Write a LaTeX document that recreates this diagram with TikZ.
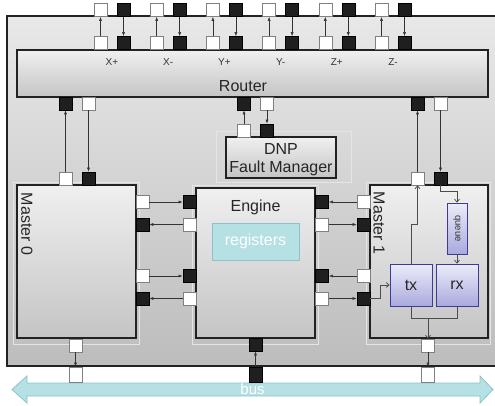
\documentclass[tikz,border=0pt]{standalone}
\usepackage{fontspec}
\setmainfont{Liberation Sans}
\usetikzlibrary{arrows.meta, shadows}

\definecolor{boxline}{HTML}{222222}
\definecolor{regfill}{HTML}{B5E0E4}
\definecolor{regline}{HTML}{8DC3C8}
\definecolor{hwline}{HTML}{3C3C98}
\definecolor{hwtop}{HTML}{ECECFA}
\definecolor{hwbot}{HTML}{A9A9DD}

\begin{document}
\begin{tikzpicture}[x=1pt, y=-1pt,
  unit/.style={draw=boxline, line width=1.2pt, top color=gray!12, bottom color=gray!46,
    drop shadow={shadow xshift=1.3pt, shadow yshift=-1.3pt, opacity=0.35}, inner sep=0pt},
  big/.style={font=\fontsize{16}{18}\selectfont, text=black!85},
  hw/.style={draw=hwline, line width=0.8pt, top color=hwtop, bottom color=hwbot, inner sep=0pt, big},
  regbox/.style={big, draw=regline, line width=0.8pt, fill=regfill, text=white},
  port/.style={minimum width=13pt, minimum height=13pt, inner sep=0pt, line width=0.6pt},
  wport/.style={port, draw=gray, fill=white},
  bport/.style={port, draw=black, fill=black!88},
  link/.style={-{Latex[length=4pt,width=3pt]}, line width=0.5pt, black!80},
  wire/.style={-{Straight Barb[length=3pt,width=5pt]}, line width=0.7pt, black!70},
  halo/.style={draw=white!80!gray, line width=0.6pt},
  lbl/.style={font=\fontsize{10}{11}\selectfont, text=black!80}
]
\useasboundingbox (0,0) rectangle (495,406);
\clip (0,0) rectangle (495,406);

% chip outline
\draw[draw=boxline, line width=1.3pt, top color=gray!18, bottom color=gray!52] (7,16) rectangle (510,366);

% light frames
\draw[halo] (13,182) rectangle (139,344);
\draw[halo] (192,185) rectangle (318,344);
\draw[halo] (366,182) rectangle (490,344);
\draw[halo] (216,131) rectangle (351,182);
\draw[halo] (387,262) rectangle (481,310);
\draw[halo] (443,202) rectangle (471,259);

% blocks
\node[unit, minimum width=471pt, minimum height=47pt] (router) at (252.5,73.5) {};
\node[big] (routertxt) at (243,86) {Router};
\node[unit, minimum width=110pt, minimum height=41pt] (dnp) at (281,157.5) {};
\node[big, align=center] (dnptxt) at (281,159.5) {DNP\\Fault Manager};
\node[unit, minimum width=119pt, minimum height=153pt] (m0) at (76.5,261.5) {};
\node[big, rotate=-90] (m0txt) at (27,224) {Master 0};
\node[unit, minimum width=119pt, minimum height=150pt] (eng) at (255.5,263) {};
\node[big] (engtxt) at (255.5,207) {Engine};
\node[regbox, minimum width=87pt, minimum height=37pt] (regs) at (255.5,241.5) {registers};
\node[unit, minimum width=118pt, minimum height=153pt] (m1) at (429,261.5) {};
\node[big, rotate=-90] (m1txt) at (379,223) {Master 1};
\node[hw, minimum width=20pt, minimum height=51pt] (queue) at (457,228.5) {};
\node[rotate=-90, font=\fontsize{9.5}{10}\selectfont, text=black!80] (queuetxt) at (queue) {queue};
\node[hw, minimum width=42pt, minimum height=42pt] (tx) at (411,285) {tx};
\node[hw, minimum width=42pt, minimum height=42pt] (rx) at (457,285) {rx};

% bus
\fill[regfill, draw=regline, line width=0.8pt]
  (12,389.5) -- (27,376) -- (27,383) -- (480,383) -- (480,376) -- (493,389.5)
  -- (480,403) -- (480,396) -- (27,396) -- (27,403) -- cycle;
\node[font=\fontsize{15}{16}\selectfont, text=white] (bustxt) at (252.5,389) {bus};

% router network ports
\foreach \dir [count=\i from 0] in {X+,X-,Y+,Y-,Z+,Z-} {
  \node[wport] (wi\i) at (100.5+56.2*\i,43) {};
  \node[bport] (bi\i) at (123.5+56.2*\i,43) {};
  \node[wport] (wo\i) at (100.5+56.2*\i,10) {};
  \node[bport] (bo\i) at (123.5+56.2*\i,10) {};
  \node[lbl] (lbl\i) at (112+56.2*\i,62) {\dir};
  \draw[link] (wi\i) -- (wo\i);
  \draw[link] (bo\i) -- (bi\i);
}

% router local ports
\node[bport] (rb0) at (65.5,103.5) {};
\node[wport] (rw0) at (88.5,103.5) {};
\node[bport] (rbd) at (244,103.5) {};
\node[wport] (rwd) at (267,103.5) {};
\node[bport] (rb1) at (417.5,103.5) {};
\node[wport] (rw1) at (440.5,103.5) {};
\node[wport] (m0w) at (65.5,178.5) {};
\node[bport] (m0b) at (88.5,178.5) {};
\node[wport] (dw) at (244,130.5) {};
\node[bport] (db) at (267,130.5) {};
\node[wport] (m1w) at (417.5,178.5) {};
\node[bport] (m1b) at (440.5,178.5) {};
\draw[link] (m0w) -- (rb0);
\draw[link] (rw0) -- (m0b);
\draw[link] (dw) -- (rbd);
\draw[link] (rwd) -- (db);
\draw[link] (m1w) -- (rb1);
\draw[link] (rw1) -- (m1b);

% master <-> engine ports
\foreach \y [count=\k] in {202,276} {
  \node[wport] (m0o\k) at (142.5,\y) {};
  \node[bport] (m0i\k) at (142.5,\y+22.5) {};
  \node[bport] (eli\k) at (189.5,\y) {};
  \node[wport] (elo\k) at (189.5,\y+22.5) {};
  \node[bport] (eri\k) at (322,\y) {};
  \node[wport] (ero\k) at (322,\y+22.5) {};
  \node[wport] (m1o\k) at (363.5,\y) {};
  \node[bport] (m1i\k) at (363.5,\y+22.5) {};
  \draw[link] (m0o\k) -- (eli\k);
  \draw[link] (elo\k) -- (m0i\k);
  \draw[link] (m1o\k) -- (eri\k);
  \draw[link] (ero\k) -- (m1i\k);
}

% bus ports
\node[wport] (m0d) at (75.5,345.5) {};
\node[wport, minimum height=15pt] (bus0) at (75.5,374.5) {};
\node[bport] (engd) at (255.5,344.5) {};
\node[bport, minimum height=15pt] (buse) at (255.5,374.5) {};
\node[wport] (m1d) at (428,345.5) {};
\node[wport, minimum height=15pt] (bus1) at (428,374.5) {};
\draw[link] (m0d) -- (bus0);
\draw[link] (buse) -- (engd);
\draw[link] (m1d) -- (bus1);

% inside master 1
\draw[wire] (tx.north) -- ++(0,-39) -| (m1w.south);
\draw[wire] (m1b.south) -- ++(0,6) -| (queue.north);
\draw[wire] (queue.south) -- (rx.north);
\draw[wire] (m1i2.east) -- ++(10,0) |- (tx.west);
\draw[wire] (tx.south) -- ++(0,12) -| (m1d.north);
\draw[wire, -] (rx.south) -- ++(0,12) -- ++(-29,0);
\end{tikzpicture}
\end{document}
